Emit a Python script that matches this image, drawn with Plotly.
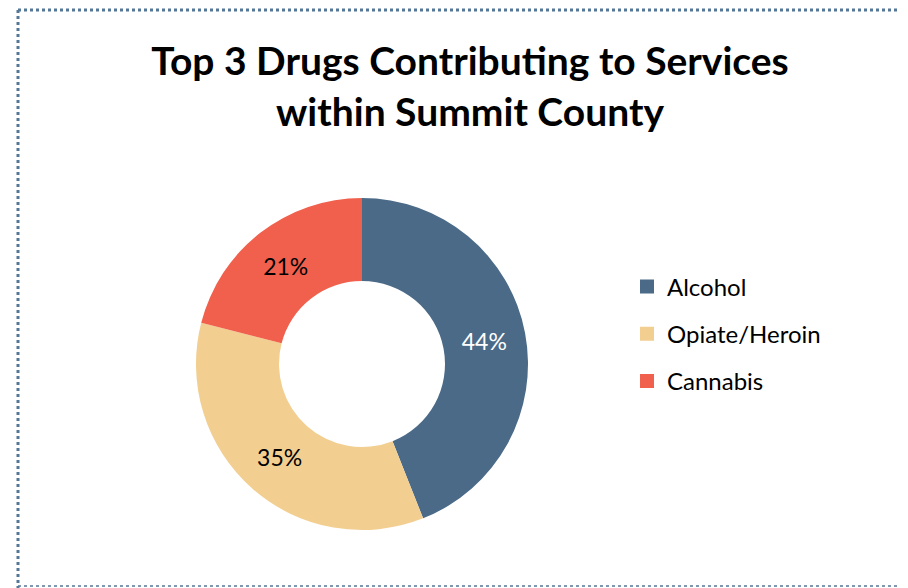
import plotly.graph_objects as go

labels = ["Alcohol", "Opiate/Heroin", "Cannabis"]
values = [44, 35, 21]
colors = ["#4A6A87", "#F2CF91", "#F0604D"]
text_colors = ["white", "black", "black"]

W, H = 908, 588
FONT = "Lato"
BORDER = "#557797"

fig = go.Figure()

fig.add_trace(go.Pie(
    labels=labels,
    values=values,
    hole=0.5,
    sort=False,
    direction="clockwise",
    rotation=0,
    marker=dict(colors=colors),
    textinfo="percent",
    textposition="inside",
    insidetextorientation="horizontal",
    textfont=dict(family=FONT, size=23, color=text_colors),
    domain=dict(x=[188 / W, 520 / W], y=[66 / H, 398 / H]),
    showlegend=False,
))

# legend entries, one group each so the rows get spaced out
for lab, col in zip(labels, colors):
    fig.add_trace(go.Scatter(
        x=[None], y=[None], mode="markers", name=lab,
        legendgroup=lab,
        marker=dict(symbol="square", size=14, color=col),
    ))

fig.update_layout(
    width=W, height=H,
    margin=dict(l=0, r=0, t=0, b=0),
    paper_bgcolor="white",
    plot_bgcolor="white",
    xaxis=dict(visible=False),
    yaxis=dict(visible=False),
    title=dict(
        text="<b>Top 3 Drugs Contributing to Services<br>within Summit County</b>",
        x=462 / W, xanchor="center",
        y=1 - 67 / H, yanchor="middle",
        font=dict(family=FONT, size=39, color="black"),
    ),
    legend=dict(
        x=619 / W, xanchor="left",
        y=1 - 326 / H, yanchor="middle",
        font=dict(family=FONT, size=24, color="black"),
        tracegroupgap=13,
        itemclick=False,
    ),
    shapes=[
        dict(type="line", xref="paper", yref="paper",
             x0=10 / W, x1=1, y0=1 - 2 / H, y1=1 - 2 / H,
             line=dict(color=BORDER, width=3, dash="dot")),
        dict(type="line", xref="paper", yref="paper",
             x0=10 / W, x1=10 / W, y0=1 - 2 / H, y1=0,
             line=dict(color=BORDER, width=3, dash="dot")),
        dict(type="line", xref="paper", yref="paper",
             x0=10 / W, x1=1, y0=1 - 578 / H, y1=1 - 578 / H,
             line=dict(color=BORDER, width=1.5, dash="dot")),
    ],
)

fig.write_html("out.html")
